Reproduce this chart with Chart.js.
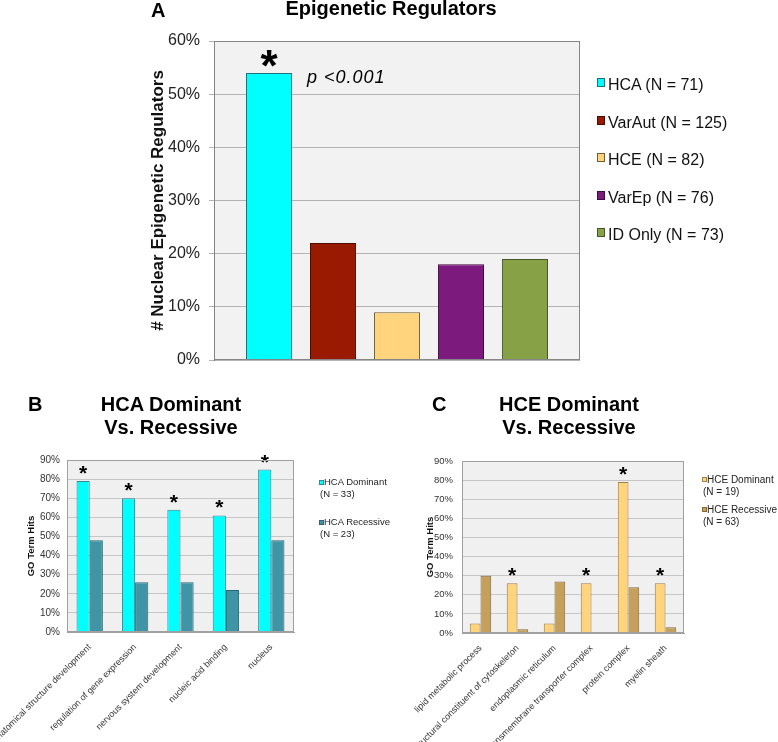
<!DOCTYPE html>
<html>
<head>
<meta charset="utf-8">
<title>Epigenetic Regulators</title>
<script src="https://cdn.jsdelivr.net/npm/chart.js@4.4.1/dist/chart.umd.min.js"></script>
<style>
  body { margin: 0; background: #fff; }
  #page { position: relative; width: 778px; height: 742px; overflow: hidden; background: #fff;
          font-family: "Liberation Sans", Arial, sans-serif; color: #000; }
  #page canvas { position: absolute; }
  .t { position: absolute; white-space: nowrap; }
  .head { font-size: 20px; font-weight: bold; }
  .sq { position: absolute; box-sizing: border-box; border: 1px solid #555; }
</style>
</head>
<body>
<div id="page">
  <canvas id="chartA" width="778" height="380" style="left:0; top:0;"></canvas>
  <canvas id="chartB" width="389" height="362" style="left:0; top:380px;"></canvas>
  <canvas id="chartC" width="389" height="362" style="left:389px; top:380px;"></canvas>

  <div class="t head" style="left:151px; top:0px; line-height:20px;">A</div>
  <div class="t head" style="left:391px; top:-2px; line-height:20px; transform:translateX(-50%);">Epigenetic Regulators</div>
  <div class="t" style="left:307px; top:68px; font-size:18px; line-height:18px; font-style:italic; letter-spacing:1px;">p &lt;0.001</div>

  <div class="t head" style="left:28px; top:393px; line-height:23.3px;">B</div>
  <div class="t head" style="left:171px; top:393px; line-height:23.3px; text-align:center; transform:translateX(-50%);">HCA Dominant<br>Vs. Recessive</div>

  <div class="t head" style="left:432px; top:393px; line-height:23.3px;">C</div>
  <div class="t head" style="left:569px; top:393px; line-height:23.3px; text-align:center; transform:translateX(-50%);">HCE Dominant<br>Vs. Recessive</div>
</div>
<script>
// panel A: nuclear epigenetic regulators per group
const groupNames = ['HCA', 'VarAut', 'HCE', 'VarEp', 'ID Only'];
const groupN = [71, 125, 82, 76, 73];
const nuclearPct = [54, 22, 9, 18, 19];
const groupSignif = [true, false, false, false, false];

// panel B: HCA dominant vs recessive GO terms
const hcaTerms = ['anatomical structure development', 'regulation of gene expression',
  'nervous system development', 'nucleic acid binding', 'nucleus'];
const hcaDominant = [79, 70, 64, 61, 85];
const hcaRecessive = [48, 26, 26, 22, 48];
const hcaSignif = [true, true, true, true, true];
const hcaSeries = ['HCA Dominant', 'HCA Recessive'];
const hcaN = [33, 23];

// panel C: HCE dominant vs recessive GO terms
const hceTerms = ['lipid metabolic process', 'structural constituent of cytoskeleton',
  'endoplasmic reticulum', 'transmembrane transporter complex', 'protein complex', 'myelin sheath'];
const hceDominant = [5, 26, 5, 26, 79, 26];
const hceRecessive = [30, 2, 27, 0, 24, 3];
const hceSignif = [false, true, false, true, true, true];
const hceSeries = ['HCE Dominant', 'HCE Recessive'];
const hceN = [19, 63];

const groupFill = ['#00ffff', '#991a00', '#ffd47c', '#7d1a7d', '#86a146'];
const groupEdge = ['#22707a', '#4d0d00', '#6e5c36', '#3f0c3f', '#48572a'];

Chart.defaults.font.family = '"Liberation Sans", Arial, sans-serif';
Chart.defaults.color = '#222';
Chart.defaults.animation = false;

// grey plot background + frame
const plotBox = {
  id: 'plotBox',
  beforeDraw(chart, args, opts) {
    const a = chart.chartArea, ctx = chart.ctx;
    ctx.save();
    ctx.fillStyle = opts.fill;
    ctx.fillRect(a.left, a.top, a.right - a.left, a.bottom - a.top);
    ctx.restore();
  },
  afterDraw(chart, args, opts) {
    const a = chart.chartArea, ctx = chart.ctx;
    ctx.save();
    ctx.strokeStyle = opts.stroke;
    ctx.lineWidth = 1;
    ctx.strokeRect(Math.round(a.left) + 0.5, Math.round(a.top) + 0.5,
      Math.round(a.right - a.left) - 1, Math.round(a.bottom - a.top) - 1);
    ctx.restore();
  }
};

// significance asterisks above the first dataset's bars
const stars = {
  id: 'stars',
  afterDatasetsDraw(chart, args, opts) {
    const meta = chart.getDatasetMeta(0);
    const ctx = chart.ctx;
    ctx.save();
    ctx.font = 'bold ' + opts.size + 'px "Liberation Sans", Arial, sans-serif';
    ctx.fillStyle = '#000';
    ctx.textAlign = 'center';
    ctx.textBaseline = 'alphabetic';
    opts.flags.forEach(function (f, i) {
      if (!f) return;
      const bar = meta.data[i];
      ctx.fillText('*', bar.x, bar.y - opts.gap);
    });
    ctx.restore();
  }
};

// ---------- panel A ----------
new Chart(document.getElementById('chartA'), {
  type: 'bar',
  data: {
    datasets: [{
      label: '# Nuclear Epigenetic Regulators',
      data: nuclearPct.map((v, i) => ({ x: i, y: v })),
      backgroundColor: groupFill,
      borderColor: groupEdge,
      borderWidth: 1,
      categoryPercentage: 0.72,
      barPercentage: 1
    }]
  },
  options: {
    responsive: false,
    layout: { padding: { top: 41, right: 198, bottom: 20, left: 0 } },
    plugins: {
      legend: { display: false },
      tooltip: { enabled: false },
      plotBox: { fill: '#f2f2f2', stroke: '#858585' },
      stars: { flags: groupSignif, size: 44, gap: -8 }
    },
    scales: {
      x: {
        type: 'linear', min: -0.86, max: 4.86, offset: false, display: false,
        ticks: { stepSize: 1, includeBounds: false }
      },
      y: {
        min: 0, max: 60,
        ticks: { stepSize: 10, padding: 9, font: { size: 16 }, color: '#222', callback: v => v + '%' },
        grid: { color: '#b3b3b3', tickLength: 5 },
        border: { color: '#7a7a7a' },
        title: {
          display: true, text: '# Nuclear Epigenetic Regulators', color: '#111',
          font: { size: 17, weight: 'bold' }, padding: { top: 147.8, bottom: 0 }
        },
        afterFit: s => { s.width = 214; }
      }
    }
  },
  plugins: [plotBox, stars]
});

// legend A
const page = document.getElementById('page');
groupNames.forEach(function (g, i) {
  const sq = document.createElement('div');
  sq.className = 'sq';
  sq.style.cssText = 'left:597px;top:' + (78 + i * 37.5) + 'px;width:8px;height:9px;background:' +
    groupFill[i] + ';border-color:' + groupEdge[i];
  page.appendChild(sq);
  const tx = document.createElement('div');
  tx.className = 't';
  tx.style.cssText = 'left:608px;top:' + (77 + i * 37.5) + 'px;font-size:16px;line-height:16px;color:#111';
  tx.textContent = g + ' (N = ' + groupN[i] + ')';
  page.appendChild(tx);
});

// ---------- panels B and C ----------
function goChart(id, terms, dom, rec, series, fills, edges, flags, g) {
  return new Chart(document.getElementById(id), {
    type: 'bar',
    data: {
      labels: terms,
      datasets: [
        { label: series[0], data: dom, backgroundColor: fills[0], borderColor: edges[0], borderWidth: 1 },
        { label: series[1], data: rec, backgroundColor: fills[1], borderColor: edges[1], borderWidth: 1 }
      ]
    },
    options: {
      responsive: false,
      layout: { padding: { top: g.top, right: g.right, bottom: 0, left: 0 } },
      datasets: { bar: { categoryPercentage: 0.58, barPercentage: 1 } },
      plugins: {
        legend: { display: false },
        tooltip: { enabled: false },
        plotBox: { fill: '#f0f0f0', stroke: '#a0a0a0' },
        stars: { flags: flags, size: 21, gap: 1 }
      },
      scales: {
        x: {
          grid: { display: false },
          border: { color: '#a0a0a0' },
          ticks: { minRotation: 45, maxRotation: 45, autoSkip: false, padding: 2, font: { size: 9 }, color: '#333' },
          afterFit: s => { s.height = g.xh; s.paddingLeft = 0; s.paddingRight = 0; }
        },
        y: {
          min: 0, max: 90,
          ticks: { stepSize: 10, padding: g.tp, font: { size: g.ts }, color: '#333', callback: v => v + '%' },
          grid: { color: '#c6c6c6', drawTicks: false },
          border: { color: '#a0a0a0' },
          title: {
            display: true, text: 'GO Term Hits', color: '#111',
            font: { size: 9.5, weight: 'bold' }, padding: { top: g.tt, bottom: 0 }
          },
          afterFit: s => { s.width = g.yw; }
        }
      }
    },
    plugins: [plotBox, stars]
  });
}

goChart('chartB', hcaTerms, hcaDominant, hcaRecessive, hcaSeries,
  ['#00ffff', '#3f95a6'], ['#2e8a94', '#2b6674'], hcaSignif,
  { top: 80, right: 95, xh: 110, yw: 67, tp: 7, ts: 10, tt: 25.3 });

goChart('chartC', hceTerms, hceDominant, hceRecessive, hceSeries,
  ['#ffd47c', '#c4a05c'], ['#9c8048', '#84683a'], hceSignif,
  { top: 81, right: 94, xh: 109, yw: 73, tp: 9, ts: 9.5, tt: 35.3 });

// legends B and C
function smallLegend(series, n, fills, edges, x, y0s, fontSize, lineGap) {
  series.forEach(function (s, i) {
    const sq = document.createElement('div');
    sq.className = 'sq';
    sq.style.cssText = 'left:' + x + 'px;top:' + (y0s[i] + 3.5) + 'px;width:5px;height:5px;background:' +
      fills[i] + ';border-color:' + edges[i];
    page.appendChild(sq);
    const l1 = document.createElement('div');
    l1.className = 't';
    l1.style.cssText = 'left:' + (x + 5) + 'px;top:' + y0s[i] + 'px;font-size:' + fontSize + 'px;line-height:12px;color:#222';
    l1.textContent = s;
    page.appendChild(l1);
    const l2 = document.createElement('div');
    l2.className = 't';
    l2.style.cssText = 'left:' + (x + 1) + 'px;top:' + (y0s[i] + lineGap) + 'px;font-size:' + fontSize + 'px;line-height:12px;color:#222';
    l2.textContent = '(N = ' + n[i] + ')';
    page.appendChild(l2);
  });
}
smallLegend(hcaSeries, hcaN, ['#00ffff', '#3f95a6'], ['#2e8a94', '#2b6674'], 319, [476, 516], 9.5, 12);
smallLegend(hceSeries, hceN, ['#ffd47c', '#c4a05c'], ['#9c8048', '#84683a'], 702, [473.5, 503.5], 10, 12.4);
</script>
</body>
</html>
